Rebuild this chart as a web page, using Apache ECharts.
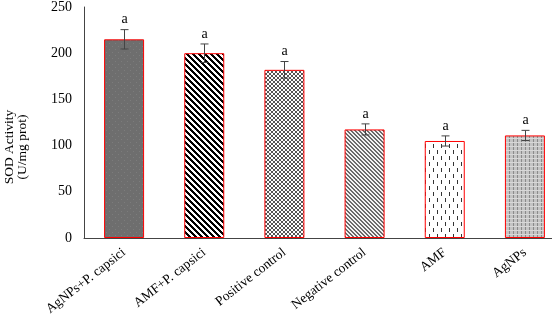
<!DOCTYPE html>
<html>
<head>
<meta charset="utf-8">
<script src="https://cdn.jsdelivr.net/npm/echarts@6/dist/echarts.min.js"></script>
<style>
  html, body { margin: 0; padding: 0; background: #fff; overflow: hidden; }
  #chart { width: 552px; height: 314px; overflow: hidden; }
</style>
</head>
<body>
<div id="chart"></div>
<script>
const categories = [
  "AgNPs+P. capsici",
  "AMF+P. capsici",
  "Positive control",
  "Negative control",
  "AMF",
  "AgNPs",
];
const sodValues = [215, 200, 182, 117.5, 105, 111];
const sodErrors = [10.5, 10, 9, 6, 5.5, 5.5];
const letters = ["a", "a", "a", "a", "a", "a"];
const yTicks = [0, 50, 100, 150, 200, 250];

const FONT = "'Liberation Serif', 'Times New Roman', serif";

// small canvas tiles used as bar fills
function makeTile(w, h, draw) {
  const c = document.createElement("canvas");
  c.width = w;
  c.height = h;
  const ctx = c.getContext("2d");
  draw(ctx, w, h);
  return { image: c, repeat: "repeat" };
}

const patterns = [
  makeTile(6, 6, (ctx) => {
    ctx.fillStyle = "#6e6e6e";
    ctx.fillRect(0, 0, 6, 6);
    ctx.fillStyle = "#7c7c7c";
    ctx.fillRect(1, 1, 1, 1);
    ctx.fillRect(4, 4, 1, 1);
  }),
  makeTile(6, 6, (ctx) => {
    ctx.fillStyle = "#fff";
    ctx.fillRect(0, 0, 6, 6);
    ctx.fillStyle = "#000";
    for (let y = 0; y < 6; y++) {
      for (let k = 0; k < 3; k++) {
        ctx.fillRect((y + k) % 6, y, 1, 1);
      }
    }
  }),
  makeTile(4, 4, (ctx) => {
    ctx.fillStyle = "#fff";
    ctx.fillRect(0, 0, 4, 4);
    ctx.fillStyle = "#555";
    for (let i = 0; i < 4; i++) {
      ctx.fillRect(i, i, 1, 1);
      ctx.fillRect(3 - i, i, 1, 1);
    }
  }),
  makeTile(4, 4, (ctx) => {
    ctx.fillStyle = "#f2f2f2";
    ctx.fillRect(0, 0, 4, 4);
    ctx.fillStyle = "#6a6a6a";
    for (let i = 0; i < 4; i++) {
      ctx.fillRect(i, i, 1, 1);
      ctx.fillRect((i + 1) % 4, i, 1, 1);
    }
  }),
  makeTile(8, 12, (ctx) => {
    ctx.fillStyle = "#fff";
    ctx.fillRect(0, 0, 8, 12);
    ctx.fillStyle = "#333";
    ctx.fillRect(1, 0, 1, 4);
    ctx.fillRect(5, 6, 1, 4);
  }),
  makeTile(4, 4, (ctx) => {
    ctx.fillStyle = "#c4c4c4";
    ctx.fillRect(0, 0, 4, 4);
    ctx.fillStyle = "#8a8a8a";
    ctx.fillRect(1, 0, 1, 4);
    ctx.fillStyle = "#d8d8d8";
    ctx.fillRect(0, 2, 4, 1);
  }),
];

const errorData = sodValues.map((v, i) => [i, v - sodErrors[i], v + sodErrors[i], letters[i]]);

const chart = echarts.init(document.getElementById("chart"), null, { renderer: "canvas" });

const option = {
  animation: false,
  backgroundColor: "#fff",
  grid: {
    show: false,
    left: 84,
    width: 481,
    top: 7,
    height: 231,
    outerBoundsMode: "none",
  },
  xAxis: {
    type: "category",
    data: categories,
    axisLine: { lineStyle: { color: "#444", width: 1 } },
    axisTick: { show: false },
    splitLine: { show: false },
    axisLabel: {
      rotate: 38,
      interval: 0,
      margin: 13,
      color: "#000",
      fontFamily: FONT,
      fontSize: 13.5,
    },
  },
  yAxis: {
    type: "value",
    min: 0,
    max: 250,
    interval: 50,
    splitLine: { show: false },
    axisLine: { show: true, lineStyle: { color: "#444", width: 1 } },
    axisTick: { show: false },
    axisLabel: {
      margin: 12,
      color: "#000",
      fontFamily: FONT,
      fontSize: 14,
      formatter: (v) => (yTicks.includes(v) ? String(v) : ""),
    },
  },
  graphic: [
    {
      type: "text",
      x: 16,
      y: 147,
      rotation: Math.PI / 2,
      style: {
        text: "SOD Activity\n(U/mg prot)",
        font: "13.5px " + FONT,
        fill: "#000",
        align: "center",
        verticalAlign: "middle",
        lineHeight: 13,
      },
    },
  ],
  series: [
    {
      type: "bar",
      barWidth: 40,
      data: sodValues.map((v, i) => ({
        value: v,
        itemStyle: { color: patterns[i], borderColor: "#ff0000", borderWidth: 1 },
      })),
    },
    {
      type: "custom",
      data: errorData,
      z: 10,
      renderItem: (params, api) => {
        const lo = api.coord([api.value(0), api.value(1)]);
        const hi = api.coord([api.value(0), api.value(2)]);
        const x = Math.round(lo[0]) + 0.5;
        const cap = 4;
        const style = { stroke: "#444", lineWidth: 1 };
        return {
          type: "group",
          children: [
            { type: "line", shape: { x1: x, y1: lo[1], x2: x, y2: hi[1] }, style },
            { type: "line", shape: { x1: x - cap, y1: hi[1], x2: x + cap, y2: hi[1] }, style },
            { type: "line", shape: { x1: x - cap, y1: lo[1], x2: x + cap, y2: lo[1] }, style },
            {
              type: "text",
              x: x,
              y: hi[1] - 3,
              style: {
                text: errorData[params.dataIndex][3],
                font: "14px " + FONT,
                fill: "#000",
                align: "center",
                verticalAlign: "bottom",
              },
            },
          ],
        };
      },
    },
  ],
};

chart.setOption(option);
</script>
</body>
</html>
